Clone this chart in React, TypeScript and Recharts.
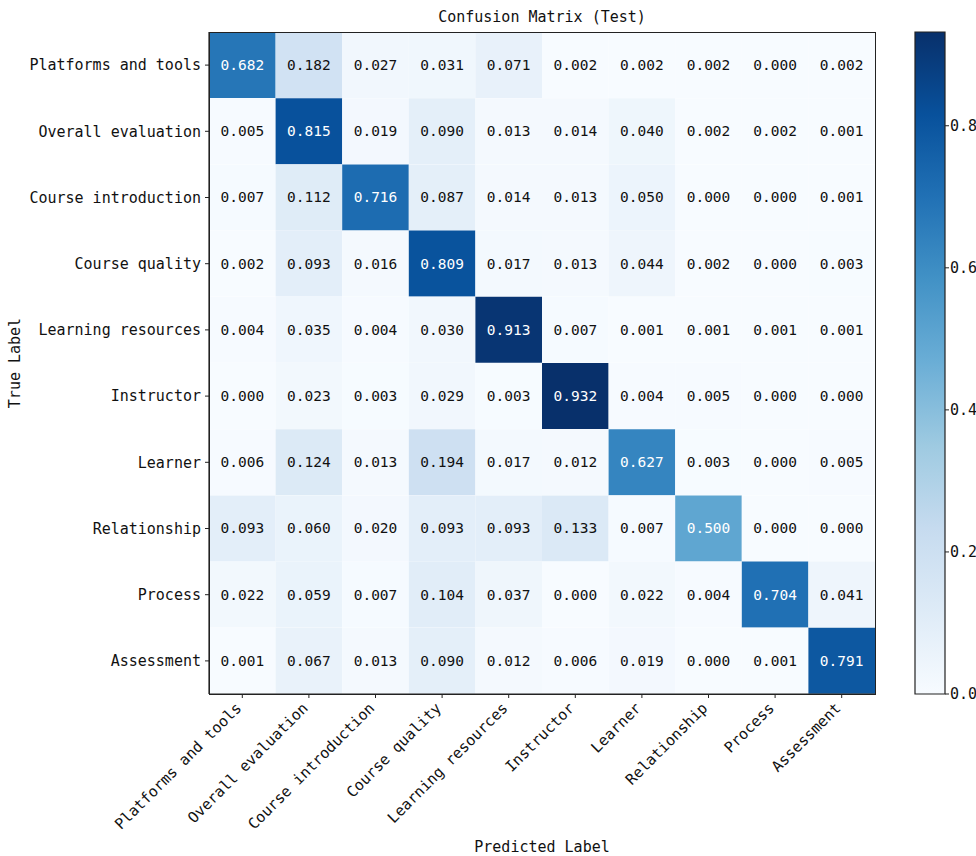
import React from 'react';
import { BarChart, Bar, XAxis, YAxis, Cell, LabelList } from 'recharts';

const classLabels = [
  'Platforms and tools',
  'Overall evaluation',
  'Course introduction',
  'Course quality',
  'Learning resources',
  'Instructor',
  'Learner',
  'Relationship',
  'Process',
  'Assessment',
];

const rowPlatforms = [0.682, 0.182, 0.027, 0.031, 0.071, 0.002, 0.002, 0.002, 0.000, 0.002];
const rowOverall = [0.005, 0.815, 0.019, 0.090, 0.013, 0.014, 0.040, 0.002, 0.002, 0.001];
const rowIntro = [0.007, 0.112, 0.716, 0.087, 0.014, 0.013, 0.050, 0.000, 0.000, 0.001];
const rowQuality = [0.002, 0.093, 0.016, 0.809, 0.017, 0.013, 0.044, 0.002, 0.000, 0.003];
const rowResources = [0.004, 0.035, 0.004, 0.030, 0.913, 0.007, 0.001, 0.001, 0.001, 0.001];
const rowInstructor = [0.000, 0.023, 0.003, 0.029, 0.003, 0.932, 0.004, 0.005, 0.000, 0.000];
const rowLearner = [0.006, 0.124, 0.013, 0.194, 0.017, 0.012, 0.627, 0.003, 0.000, 0.005];
const rowRelationship = [0.093, 0.060, 0.020, 0.093, 0.093, 0.133, 0.007, 0.500, 0.000, 0.000];
const rowProcess = [0.022, 0.059, 0.007, 0.104, 0.037, 0.000, 0.022, 0.004, 0.704, 0.041];
const rowAssessment = [0.001, 0.067, 0.013, 0.090, 0.012, 0.006, 0.019, 0.000, 0.001, 0.791];

const matrix = [
  rowPlatforms, rowOverall, rowIntro, rowQuality, rowResources,
  rowInstructor, rowLearner, rowRelationship, rowProcess, rowAssessment,
];

const colorbarTicks = [0, 0.2, 0.4, 0.6, 0.8];
const colTicks = [0.5, 1.5, 2.5, 3.5, 4.5, 5.5, 6.5, 7.5, 8.5, 9.5];

const BLUES = ['#f7fbff', '#deebf7', '#c6dbef', '#9ecae1', '#6baed6', '#4292c6', '#2171b5', '#08519c', '#08306b'];

const vmax = Math.max(...matrix.map((r) => Math.max(...r)));

function hexToRgb(h: string) {
  return [parseInt(h.slice(1, 3), 16), parseInt(h.slice(3, 5), 16), parseInt(h.slice(5, 7), 16)];
}
function blues(t: number) {
  const tt = Math.max(0, Math.min(1, t)) * (BLUES.length - 1);
  const i = Math.min(Math.floor(tt), BLUES.length - 2);
  const f = tt - i;
  const a = hexToRgb(BLUES[i]);
  const b = hexToRgb(BLUES[i + 1]);
  const c = a.map((v, k) => Math.round(v + (b[k] - v) * f));
  return `rgb(${c[0]},${c[1]},${c[2]})`;
}

const tableData = matrix.map((vals, i) => {
  const o: any = { row: classLabels[i] };
  vals.forEach((v, j) => {
    o['c' + j] = 1;
    o['v' + j] = v;
  });
  return o;
});

const FONT = '"DejaVu Sans Mono", "Liberation Mono", monospace';
const TEXT = '#111';

const YTick = (props: any) => {
  const { x, y, payload } = props;
  return (
    <text x={x} y={y} dy="0.35em" textAnchor="end" fontFamily={FONT} fontSize={15} fill={TEXT}>
      {payload.value}
    </text>
  );
};

const XTick = (props: any) => {
  const { x, y, payload } = props;
  const idx = Math.round(payload.value - 0.5);
  return (
    <g transform={`translate(${x},${y + 9}) rotate(-45)`}>
      <text x={0} y={0} textAnchor="end" fontFamily={FONT} fontSize={15} fill={TEXT}>
        {classLabels[idx]}
      </text>
    </g>
  );
};

const makeCellLabel = () => (props: any) => {
  const { x, y, width, height, value } = props;
  const v = Number(value);
  return (
    <text
      x={x + width / 2}
      y={y + height / 2}
      dy="0.35em"
      textAnchor="middle"
      fontFamily={FONT}
      fontSize={14.5}
      fill={v > vmax / 2 ? '#ffffff' : TEXT}
    >
      {v.toFixed(3)}
    </text>
  );
};

const CbTick = (props: any) => {
  const { x, y, payload } = props;
  return (
    <text x={x} y={y} dy="0.35em" textAnchor="start" fontFamily={FONT} fontSize={15} fill={TEXT}>
      {Number(payload.value).toFixed(1)}
    </text>
  );
};

export default function App() {
  const colorbarData = [{ name: 'cb', v: vmax }];
  return (
    <div style={{ position: 'absolute', left: 0, top: 0, width: 976, height: 856, background: '#fff' }}>
      <div style={{ position: 'absolute', left: 0, top: 0 }}>
        <BarChart
          width={976}
          height={856}
          data={tableData}
          layout="vertical"
          margin={{ top: 32, right: 101, bottom: 12, left: 0 }}
          barCategoryGap={0}
          barGap={0}
        >
          <XAxis
            type="number"
            domain={[0, 10]}
            ticks={colTicks}
            interval={0}
            height={150}
            tickSize={4}
            tickMargin={2}
            tick={<XTick />}
            axisLine={{ stroke: '#222', strokeWidth: 1.2 }}
            tickLine={{ stroke: '#222' }}
            allowDataOverflow
          />
          <YAxis
            type="category"
            dataKey="row"
            width={209}
            tickSize={4}
            tickMargin={4}
            interval={0}
            tick={<YTick />}
            axisLine={{ stroke: '#222', strokeWidth: 1.2 }}
            tickLine={{ stroke: '#222' }}
          />
          {classLabels.map((_, j) => (
            <Bar key={j} dataKey={'c' + j} stackId="m" isAnimationActive={false}>
              {matrix.map((vals, i) => (
                <Cell key={i} fill={blues(vals[j] / vmax)} />
              ))}
              <LabelList dataKey={'v' + j} content={makeCellLabel()} />
            </Bar>
          ))}
        </BarChart>
      </div>
      <div
        style={{
          position: 'absolute',
          left: 209,
          top: 32,
          width: 667,
          height: 663,
          boxSizing: 'border-box',
          border: '1.2px solid #222',
          pointerEvents: 'none',
        }}
      />
      <div style={{ position: 'absolute', left: 0, top: 0 }}>
        <BarChart
          width={976}
          height={856}
          data={colorbarData}
          margin={{ top: 32, right: 0, bottom: 162, left: 915 }}
          barCategoryGap={0}
        >
          <defs>
            <linearGradient id="bluesGrad" x1="0" y1="1" x2="0" y2="0">
              {BLUES.map((c, i) => (
                <stop key={i} offset={i / (BLUES.length - 1)} stopColor={c} />
              ))}
            </linearGradient>
          </defs>
          <XAxis dataKey="name" hide />
          <YAxis
            orientation="right"
            type="number"
            domain={[0, vmax]}
            ticks={colorbarTicks}
            width={31}
            tickSize={4}
            tickMargin={1}
            tick={<CbTick />}
            axisLine={false}
            tickLine={{ stroke: '#222' }}
          />
          <Bar dataKey="v" fill="url(#bluesGrad)" stroke="#222" strokeWidth={1.2} isAnimationActive={false} />
        </BarChart>
      </div>
      <div
        style={{
          position: 'absolute',
          left: 209,
          width: 666,
          top: 8,
          textAlign: 'center',
          fontFamily: FONT,
          fontSize: 15,
          color: TEXT,
        }}
      >
        Confusion Matrix (Test)
      </div>
      <div
        style={{
          position: 'absolute',
          left: 209,
          width: 666,
          top: 838,
          textAlign: 'center',
          fontFamily: FONT,
          fontSize: 15,
          color: TEXT,
        }}
      >
        Predicted Label
      </div>
      <div
        style={{
          position: 'absolute',
          left: 15,
          top: 363,
          transform: 'translate(-50%, -50%) rotate(-90deg)',
          fontFamily: FONT,
          fontSize: 15,
          color: TEXT,
          whiteSpace: 'nowrap',
        }}
      >
        True Label
      </div>
    </div>
  );
}
